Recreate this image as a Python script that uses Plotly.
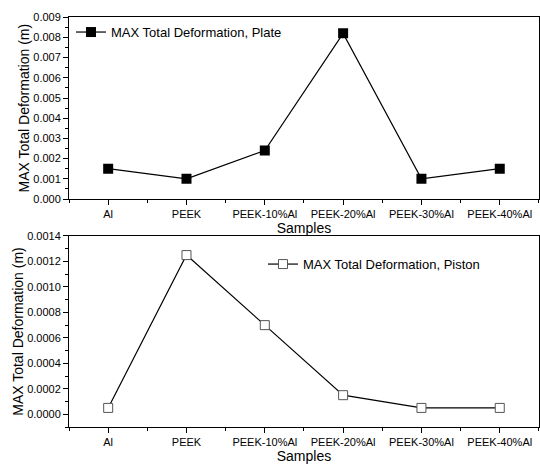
import plotly.graph_objects as go

samples = ["Al", "PEEK", "PEEK-10%Al", "PEEK-20%Al", "PEEK-30%Al", "PEEK-40%Al"]
plate = [0.0015, 0.0010, 0.0024, 0.0082, 0.0010, 0.0015]
piston = [0.00005, 0.00125, 0.00070, 0.00015, 0.00005, 0.00005]
plate_name = "MAX Total Deformation, Plate"
piston_name = "MAX Total Deformation, Piston"
xidx = list(range(len(samples)))

FONT = "Liberation Sans, Arial, sans-serif"
fig = go.Figure()
fig.add_trace(go.Scatter(x=xidx, y=plate, mode="lines+markers", name=plate_name,
                         line=dict(color="black", width=1.2), showlegend=True,
                         marker=dict(symbol="square", size=10, color="black"),
                         xaxis="x", yaxis="y", legend="legend"))
fig.add_trace(go.Scatter(x=xidx, y=piston, mode="lines+markers", name=piston_name,
                         line=dict(color="black", width=1.2), showlegend=True,
                         marker=dict(symbol="square", size=9, color="white",
                                     line=dict(color="#555555", width=1)),
                         xaxis="x2", yaxis="y2", legend="legend2"))

xcommon = dict(range=[-0.5, 5.5], tickmode="array", tickvals=xidx, ticktext=samples,
               showline=True, linecolor="black", linewidth=1, mirror=True, automargin=False,
               ticks="outside", ticklen=5, tickcolor="black", showgrid=False, zeroline=False,
               tickfont=dict(family=FONT, size=11, color="black"),
               minor=dict(ticks="outside", ticklen=3, tickcolor="black", tick0=0, dtick=0.5),
               domain=[0.1278, 0.998],
               title=dict(text="Samples", font=dict(family=FONT, size=14, color="black"), standoff=2))
ycommon = dict(showline=True, linecolor="black", linewidth=1, mirror=True, automargin=False,
               ticks="outside", ticklen=5, tickcolor="black", showgrid=False, zeroline=False,
               tickfont=dict(family=FONT, size=11, color="black"),
               title=dict(text="MAX Total Deformation (m)", font=dict(family=FONT, size=14, color="black"), standoff=0))

fig.update_layout(
    width=540, height=465, margin=dict(l=0, r=0, t=0, b=0), showlegend=True,
    paper_bgcolor="white", plot_bgcolor="white",
    xaxis=dict(xcommon, anchor="y"),
    xaxis2=dict(xcommon, anchor="y2"),
    yaxis=dict(ycommon, domain=[0.572, 0.963], range=[0, 0.009], dtick=0.001, tickformat=".3f",
               minor=dict(ticks="outside", ticklen=3, tickcolor="black", dtick=0.0005), anchor="x"),
    yaxis2=dict(ycommon, domain=[0.0817, 0.4925], range=[-0.0001, 0.0014], tick0=0, dtick=0.0002,
                tickformat=".4f",
                minor=dict(ticks="outside", ticklen=3, tickcolor="black", tick0=0, dtick=0.0001), anchor="x2"),
    legend=dict(x=0.1315, y=0.931, xanchor="left", yanchor="middle", bgcolor="rgba(0,0,0,0)",
                font=dict(family=FONT, size=13, color="black")),
    legend2=dict(x=0.487, y=0.432, xanchor="left", yanchor="middle", bgcolor="rgba(0,0,0,0)",
                 font=dict(family=FONT, size=13, color="black")),
)
fig.write_html("out.html", config={"displayModeBar": False},
               post_script="document.body.style.margin='0';document.body.style.overflow='hidden';")
